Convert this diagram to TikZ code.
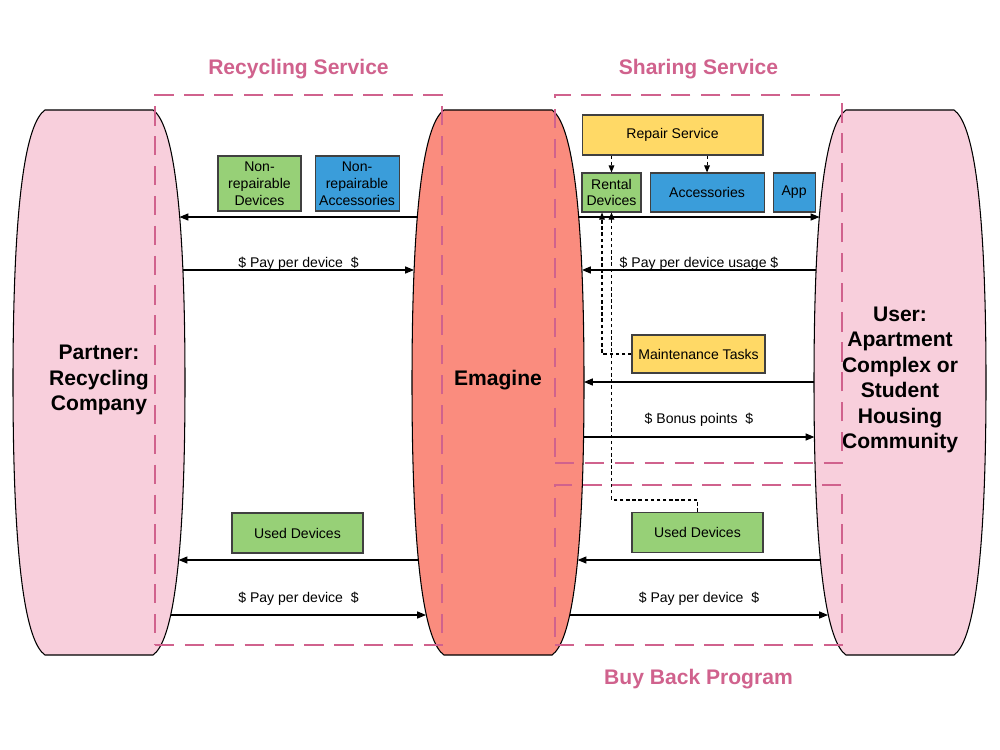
\documentclass[tikz,border=0pt]{standalone}
\usepackage{fontspec}
\setmainfont{Liberation Sans}
\usepackage{xcolor}
\usetikzlibrary{arrows.meta, positioning}

\definecolor{pinkfill}{HTML}{F8CFDC}
\definecolor{salmon}{HTML}{FA8C7E}
\definecolor{boxgreen}{HTML}{97D077}
\definecolor{boxblue}{HTML}{3A9DDA}
\definecolor{boxyellow}{HTML}{FFD966}
\definecolor{svcpink}{HTML}{D0628D}

% flat-topped oval: #1 centre x, #2 fill
\newcommand{\barrel}[2]{%
  \filldraw[fill=#2, draw=black, line width=0.6pt]
    (#1-54,110) -- (#1+54,110) .. controls (#1+72,122.5) and (#1+86,192.5) .. (#1+86,382.5)
    .. controls (#1+86,572.5) and (#1+72,642.5) .. (#1+54,655) -- (#1-54,655)
    .. controls (#1-72,642.5) and (#1-86,572.5) .. (#1-86,382.5)
    .. controls (#1-86,192.5) and (#1-72,122.5) .. cycle;}

\begin{document}
\begin{tikzpicture}[
  x=0.02cm, y=-0.02cm,
  actor/.style={font=\bfseries\fontsize{12}{14.5}\selectfont, align=center},
  svcbox/.style={draw=svcpink, line width=1.1pt, dash pattern=on 11pt off 6pt, inner sep=0pt},
  svctitle/.style={text=svcpink, font=\bfseries\fontsize{12}{14}\selectfont, inner sep=0pt},
  item/.style={draw=black!75, line width=0.6pt, font=\fontsize{8}{9.6}\selectfont, align=center, inner sep=1pt},
  greenbox/.style={item, fill=boxgreen},
  bluebox/.style={item, fill=boxblue},
  yellowbox/.style={item, fill=boxyellow},
  arr/.style={-{Triangle[length=5pt,width=4pt]}, line width=0.6pt},
  dasharr/.style={-{Triangle[length=4pt,width=3.2pt]}, line width=0.6pt, dash pattern=on 2pt off 1.5pt},
  lbl/.style={font=\fontsize{8}{9.6}\selectfont, inner sep=0pt}
]
\useasboundingbox (0,0) rectangle (1000,750);

% Partners
\barrel{99}{pinkfill}
\barrel{498}{salmon}
\barrel{900}{pinkfill}
\node[actor] (partner) at (99,380) {Partner:\\Recycling\\Company};
\node[actor] (emagine) at (498,380) {Emagine};
\node[actor] (user) at (900,380) {User:\\Apartment\\Complex or\\Student\\Housing\\Community};

% Services
\node[svcbox, minimum width=5.74cm, minimum height=11cm] (recycling) at (298.5,370) {};
\node[svcbox, minimum width=5.74cm, minimum height=7.36cm] (sharing) at (698.5,279) {};
\node[svcbox, minimum width=5.74cm, minimum height=3.2cm] (buyback) at (698.5,565) {};
\node[svctitle, above=0.29cm of recycling] (recyclingT) {Recycling Service};
\node[svctitle, above=0.29cm of sharing] (sharingT) {Sharing Service};
\node[svctitle, below=0.46cm of buyback] (buybackT) {Buy Back Program};

% Recycling boxes
\node[greenbox, minimum width=1.66cm, minimum height=1.1cm] (nrdev) at (259.5,183.5) {Non-\\repairable\\Devices};
\node[bluebox, minimum width=1.68cm, minimum height=1.1cm, right=0.26cm of nrdev] (nracc) {Non-\\repairable\\Accessories};
\node[greenbox, minimum width=2.62cm, minimum height=0.8cm] (usedL) at (297.5,533) {Used Devices};

% Sharing boxes
\node[yellowbox, minimum width=3.62cm, minimum height=0.8cm] (repair) at (672.5,135) {Repair Service};
\node[greenbox, minimum width=1.18cm, minimum height=0.78cm] (rental) at (611.5,192.5) {Rental\\Devices};
\node[bluebox, minimum width=2.28cm, minimum height=0.78cm, right=0.16cm of rental] (acc) {Accessories};
\node[bluebox, minimum width=0.84cm, minimum height=0.78cm, right=0.16cm of acc] (app) {App};
\node[yellowbox, minimum width=2.66cm, minimum height=0.76cm] (maint) at (698.5,354) {Maintenance Tasks};
\node[greenbox, minimum width=2.62cm, minimum height=0.8cm] (usedR) at (697.5,532.5) {Used Devices};

% ends on the oval borders
\coordinate (pR1) at (179.5,217); \coordinate (eL1) at (417.5,217);
\coordinate (pR2) at (183,270);   \coordinate (eL2) at (414,270);
\coordinate (pR3) at (178.6,560); \coordinate (eL3) at (418.4,560);
\coordinate (pR4) at (171,615);   \coordinate (eL4) at (426,615);
\coordinate (eR1) at (578.5,217); \coordinate (uL1) at (819.5,217);
\coordinate (eR2) at (582,270);   \coordinate (uL2) at (816,270);
\coordinate (eR3) at (584,382);   \coordinate (uL3) at (814,382);
\coordinate (eR4) at (583.6,437); \coordinate (uL4) at (814.4,437);
\coordinate (eR5) at (577.6,560); \coordinate (uL5) at (820.4,560);
\coordinate (eR6) at (570,615);   \coordinate (uL6) at (828,615);

% Flows
\draw[arr] (eL1) -- (pR1);
\draw[arr] (pR2) -- (eL2) node[lbl, midway, above=-0.5pt] {\$ Pay per device\ \ \$};
\draw[arr] (eL3) -- (pR3);
\draw[arr] (pR4) -- (eL4) node[lbl, midway, above=5pt] {\$ Pay per device\ \ \$};
\draw[arr] (eR1) -- (uL1);
\draw[arr] (uL2) -- (eR2) node[lbl, midway, above=-0.5pt] {\$ Pay per device usage \$};
\draw[arr] (uL3) -- (eR3);
\draw[arr] (eR4) -- (uL4) node[lbl, midway, above=6pt] {\$ Bonus points\ \ \$};
\draw[arr] (uL5) -- (eR5);
\draw[arr] (eR6) -- (uL6) node[lbl, midway, above=5pt] {\$ Pay per device\ \ \$};

% Internal links
\draw[dasharr] (repair.south -| rental) -- (rental);
\draw[dasharr] (repair.south -| acc) -- (acc);
\draw[dasharr] (maint.west) -| ([xshift=-0.19cm]rental.south);
\draw[dasharr] (usedR.north) -- ++(0,-12) -| (rental.south);
\end{tikzpicture}
\end{document}
